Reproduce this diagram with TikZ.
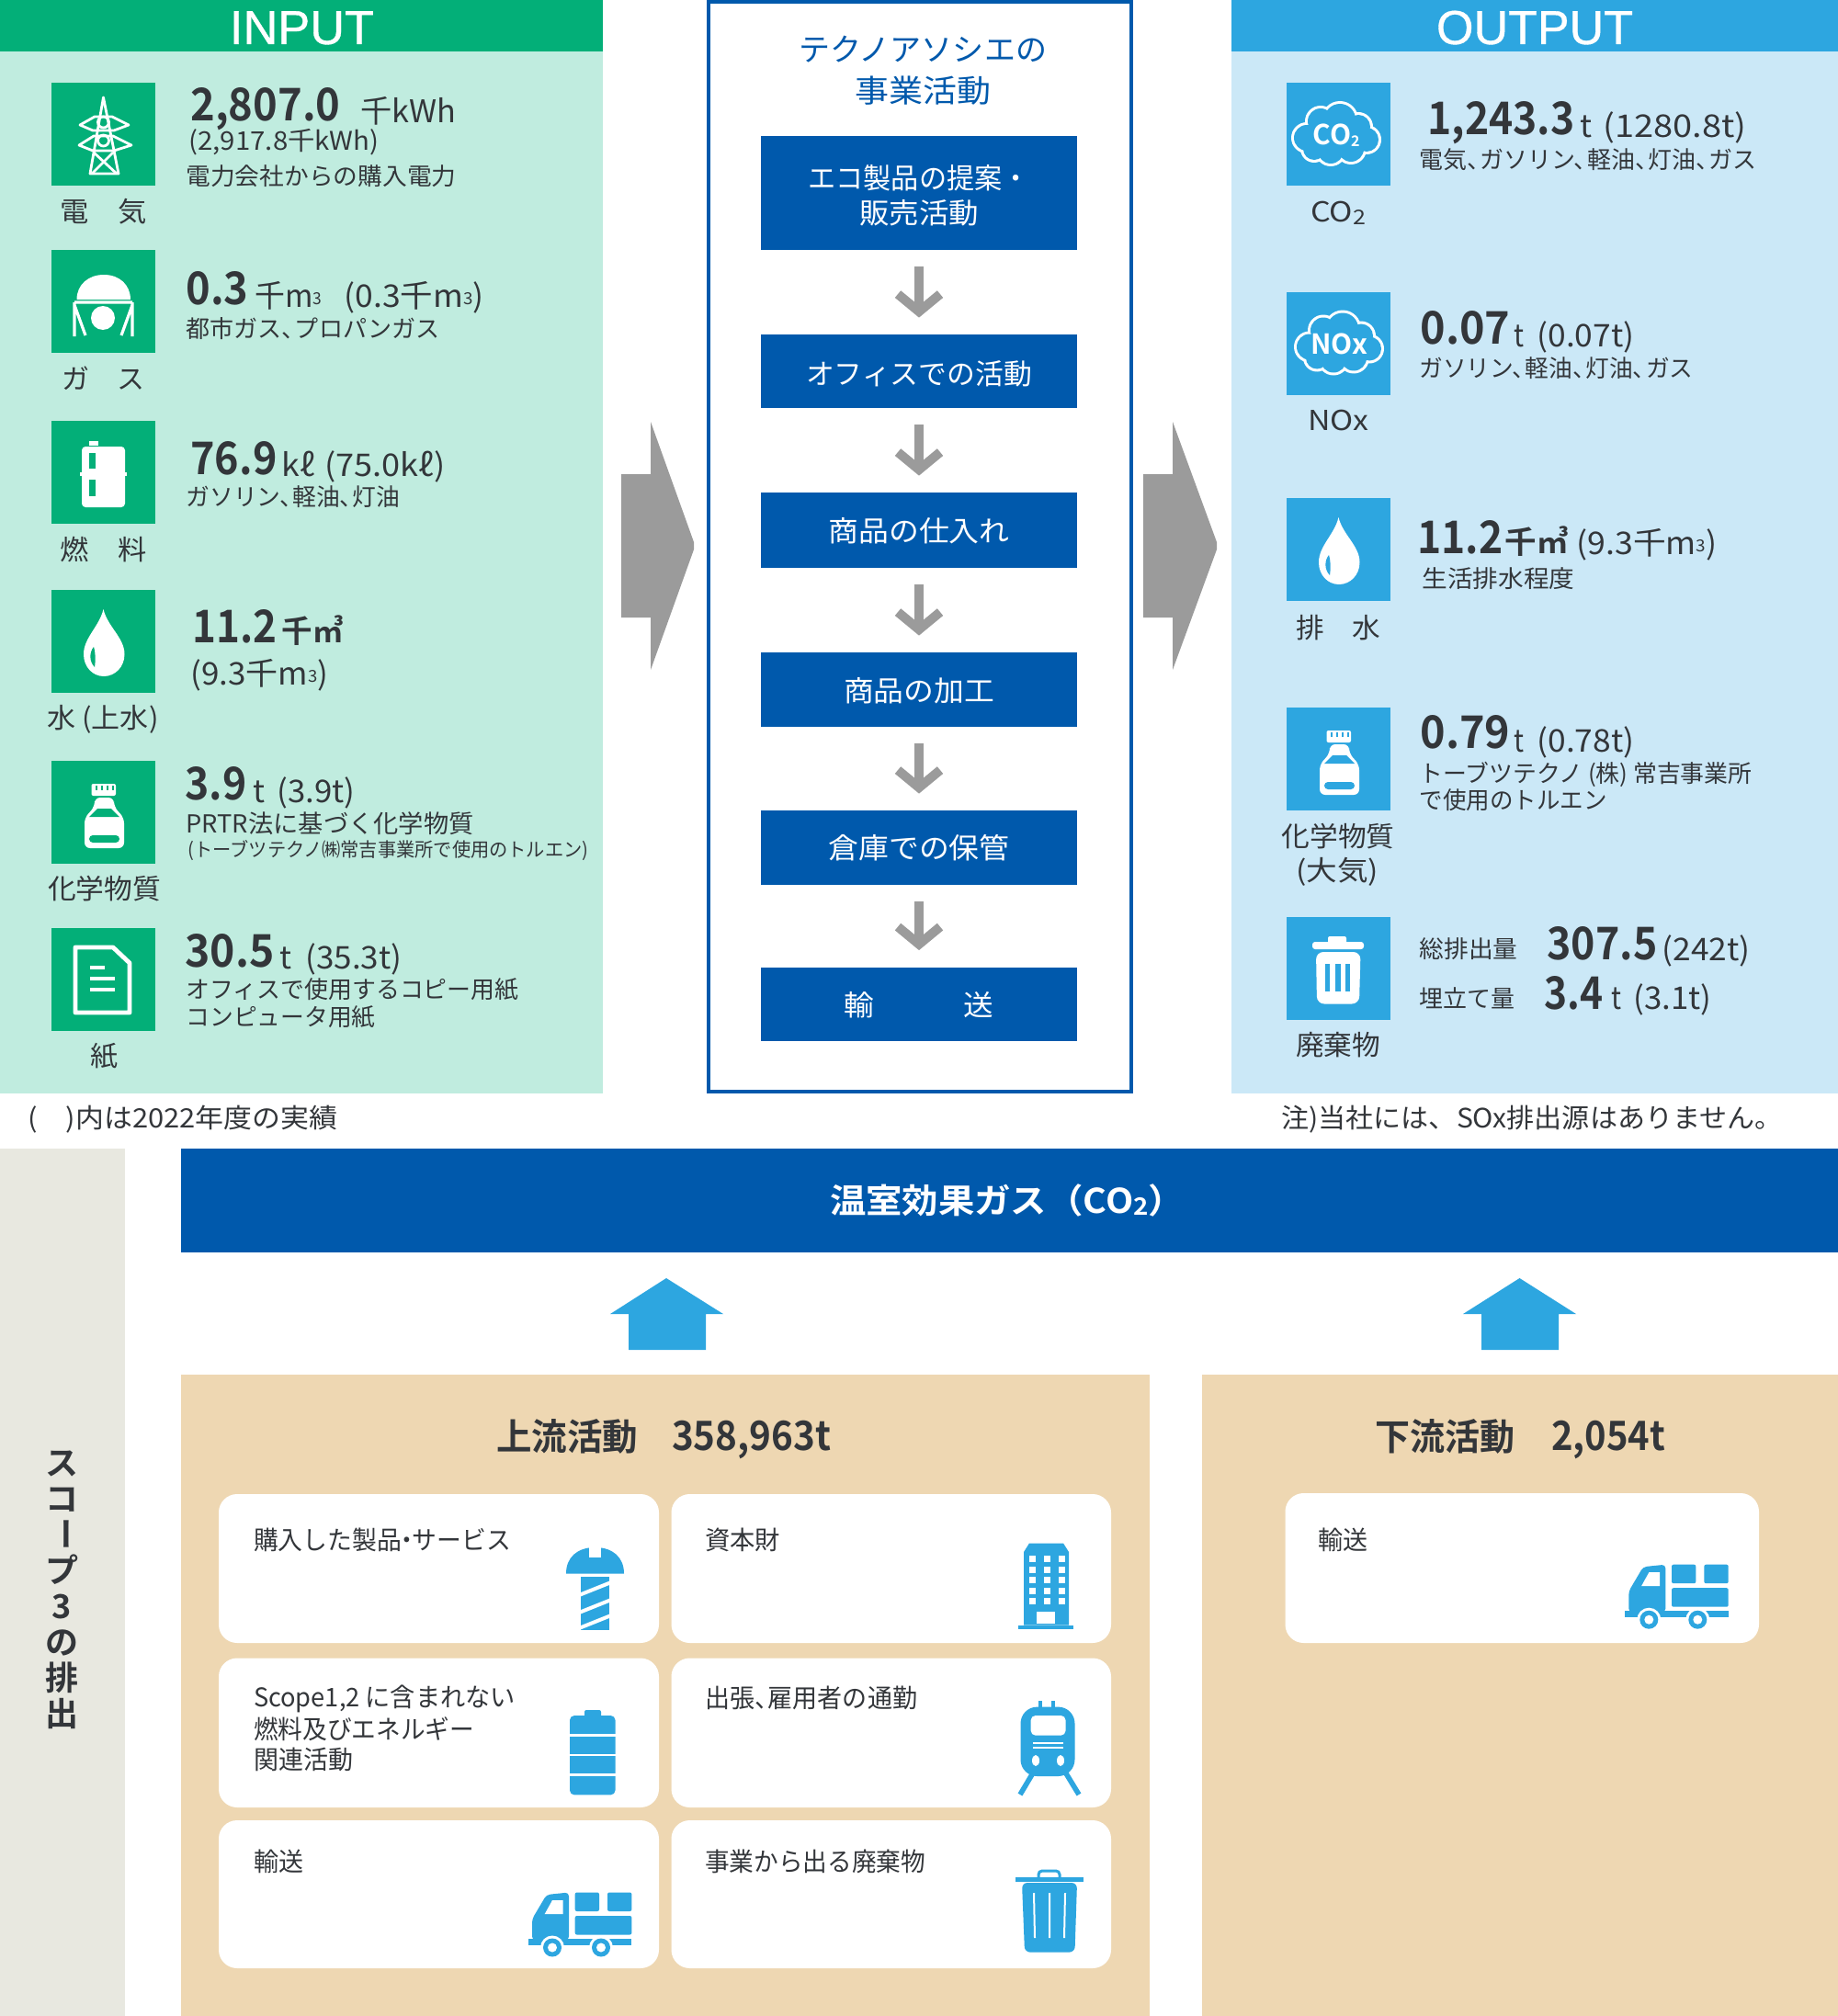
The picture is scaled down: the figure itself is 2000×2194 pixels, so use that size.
\documentclass[tikz,border=0pt]{standalone}
\usepackage{fontspec}
\usepackage{graphicx}
\usetikzlibrary{arrows.meta}
\setmainfont{Noto Sans CJK JP}[BoldFont={Noto Sans CJK JP Bold}]
\newfontfamily\latinhead{Liberation Sans}[FakeBold=0.7]
\definecolor{ingreen}{HTML}{03AF78}
\definecolor{inpale}{HTML}{C0ECDF}
\definecolor{outblue}{HTML}{2DA6E0}
\definecolor{outpale}{HTML}{CBE8F7}
\definecolor{deepblue}{HTML}{0059AC}
\definecolor{flowgray}{HTML}{9B9B9B}
\definecolor{sidegray}{HTML}{E8E8E0}
\definecolor{beige}{HTML}{EED7B2}
\definecolor{ink}{HTML}{33363A}
\newcommand\fs[1]{\fontsize{#1}{#1}\selectfont}
\newsavebox\fbx
\newcommand\fw[2]{\sbox\fbx{#2}\edef\fwid{\the\wd\fbx}\pgfmathsetmacro\fr{(#1)*0.5/\fwid}\scalebox{\fr}[1]{\usebox\fbx}}
% upper panels: measured left edges carry a 2.5 px offset
\newcommand\tw[5]{\node[txt] (#1) at (#2-2.5,#3) {\fw{#4}{#5}};}
\newcommand\twb[5]{\node[txt] (#1) at (#2,#3) {\fw{#4}{#5}};}
\newcommand\tc[5]{\node[txtc] (#1) at (#2,#3) {\fw{#4}{#5}};}
\newcommand\ten{、\kern-.45em}
\newcommand\nak{\kern-.28em・\kern-.28em}
\newcommand\mth{\raisebox{1.5pt}{\fs{9}3}}
\newcommand\subtwo[1]{\raisebox{-1.2pt}{\fs{#1}2}}
\newcommand\downby[2]{\raisebox{0pt}[\dimexpr\height+#1\relax][\depth]{#2}}
\newcommand\Bn{\fs{24.5}\bfseries}
\newcommand\Un{\fs{17}}
\newcommand\Dt{\fs{13}}
\newcommand\Ct{\fs{14}}
\newcommand\Lb{\fs{15}}
\tikzset{
  txt/.style={anchor=base west,inner sep=0pt,outer sep=0pt,text=ink},
  txtc/.style={anchor=center,inner sep=0pt,outer sep=0pt,text=ink},
  procbox/.style={fill=deepblue,text=white,anchor=center,inner sep=0pt,minimum width=172pt,align=center,font={\fontsize{15.5}{19}\selectfont}},
  flow/.style={draw=flowgray,line width=5pt,shorten <=9pt,shorten >=9pt,-{Straight Barb[length=9.5pt,width=23pt]}},
  card/.style={fill=white,rounded corners=10pt},
}
% ---- icons (local origin = top-left of icon square) ----
\newcommand\icdrop[3]{\begin{scope}[shift={(#1,#2)}]
\fill[white] (56.5,21) .. controls (52,40) and (35,52) .. (35,70) .. controls (35,84) and (45,94) .. (57,94) .. controls (69,94) and (79.5,84) .. (79.5,70) .. controls (79.5,52) and (61,40) .. (56.5,21) -- cycle;
\fill[#3] (46,62) .. controls (41,68) and (41,78) .. (47,84) .. controls (48,78) and (48,68) .. (46,62) -- cycle;
\end{scope}}
\newcommand\icbottle[3]{\begin{scope}[shift={(#1,#2)}]
\fill[white,rounded corners=3pt] (47,40) -- (47,50) -- (36,62) -- (36,95) -- (79,95) -- (79,62) -- (68,50) -- (68,40) -- cycle;
\fill[white,rounded corners=1pt] (43.5,25) rectangle (70,38);
\foreach \q in {48,54,60,66}{\fill[#3] (\q,27) rectangle (\q+1.8,32);}
\fill[#3] (41,61) -- (50,52) -- (65,52) -- (74,61) -- cycle;
\fill[#3,rounded corners=2pt] (41,81) rectangle (74,89);
\end{scope}}
\newcommand\iccloud[4]{\begin{scope}[shift={(#1,#2)}]
\foreach \a/\b/\r in {22/60/14,37/42/14,58/40/17,78/48/13,87/62/13,70/72/14,48/74/14,30/72/12,55/57/20}{\fill[white] (\a,\b) circle (\r+3);}
\foreach \a/\b/\r in {22/60/14,37/42/14,58/40/17,78/48/13,87/62/13,70/72/14,48/74/14,30/72/12,55/57/20}{\fill[outblue] (\a,\b) circle (\r);}
\node[txtc,text=white,font=\bfseries\fs{15}] (#3) at (54,57) {#4};
\end{scope}}
\newcommand\ictruck[2]{\begin{scope}[shift={(#1,#2)}]
\fill[outblue,rounded corners=2pt] (4.3,52) -- (4.3,29) -- (20,2.5) -- (44.3,0) -- (44.3,52) -- cycle;
\fill[white] (18,23.5) -- (38,23.5) -- (38,8.5) -- (26.3,8.5) -- cycle;
\fill[outblue,rounded corners=1pt] (51,0) rectangle (77.3,20.5);
\fill[outblue,rounded corners=1pt] (86.3,0) rectangle (112.7,20.5);
\fill[outblue,rounded corners=1pt] (51,25.5) rectangle (112.7,46);
\fill[outblue] (0,50) rectangle (112.7,57.5);
\foreach \q in {26.3,79.3}{\fill[white] (\q,60) circle (13);\fill[outblue] (\q,60) circle (10);\fill[white] (\q,60) circle (5);}
\end{scope}}
\begin{document}
\begin{tikzpicture}[x=0.5pt,y=-0.5pt]
\useasboundingbox (0,0) rectangle (2000,2194);
\fill[white] (0,0) rectangle (2000,2194);
% ===== INPUT panel =====
\fill[inpale] (0,0) rectangle (656,1190);
\fill[ingreen] (0,0) rectangle (656,56);
\node[txt,text=white,font=\latinhead\fs{26}] (inhead) at (250,48) {\fw{157}{INPUT}};
\foreach \q in {90,272,458,642,828,1010}{\fill[ingreen] (56,\q) rectangle ++(113,112);}
% pylon
\begin{scope}[shift={(56,90)},draw=white,line width=1.4pt,line join=round]
\draw (56.5,16) -- (42,99) -- (73,99) -- cycle;
\draw (31,46) -- (47,37) -- (66,37) -- (84,46) -- (68,52) -- (45,52) -- cycle;
\draw (30,68) -- (46,58) -- (67,58) -- (87,68) -- (68,74) -- (45,74) -- cycle;
\draw (56.5,43) circle (6);\draw (56.5,63) circle (6);
\draw (46,76) -- (71,99) (67,76) -- (44,99);
\end{scope}
% gas tank
\begin{scope}[shift={(56,272)}]
\fill[white] (27.5,54) .. controls (27.5,38) and (40,27) .. (57,27) .. controls (74,27) and (86,38) .. (86,54) -- cycle;
\draw[white,line width=1.6pt] (25,57) -- (88,57) (25,57) -- (25,94) (88,57) -- (88,94) (25,60) -- (37,93) (88,60) -- (76,93);
\fill[white] (56,74) circle (13);
\end{scope}
% drum
\begin{scope}[shift={(56,458)}]
\fill[white] (41,22) rectangle (51,27);
\fill[white,rounded corners=2pt] (33,28) rectangle (80,94);
\fill[white] (31,56) rectangle (82,60);
\fill[ingreen] (41,35) rectangle (48,52);
\fill[ingreen] (41,64) rectangle (48,82);
\end{scope}
\icdrop{56}{642}{ingreen}
\icbottle{56}{828}{ingreen}
% paper
\begin{scope}[shift={(56,1010)}]
\draw[white,line width=2.4pt,line join=round] (26,21) -- (67,21) -- (85,38) -- (85,92) -- (26,92) -- cycle;
\draw[white,line width=1.6pt] (41.5,43) -- (58,43) (41.5,55) -- (69,55) (41.5,67) -- (69,67);
\end{scope}
% input texts
\tw{a1n}{210}{132}{163}{\Bn 2,807.0}
\tw{a1u}{395}{134}{104}{\Un 千kWh}
\tw{a1p}{208}{164}{207}{\fs{14}(2,917.8千kWh)}
\tw{a1d}{205}{202}{294}{\Dt 電力会社からの購入電力}
\tc{a1l}{112.5}{230}{94}{\Lb 電　気}
\tw{a2n}{205}{331}{68}{\Bn 0.3}
\tw{a2u}{280}{334}{73}{\Un 千m\mth}
\tw{a2p}{377}{334}{152}{\Un (0.3千m\mth)}
\tw{a2d}{205}{367}{276}{\Dt 都市ガス\ten プロパンガス}
\tc{a2l}{112.5}{412}{90}{\Lb ガ　ス}
\tw{a3n}{210}{516}{94}{\Bn 76.9}
\tw{a3u}{309}{518}{36}{\Un kℓ}
\tw{a3p}{356}{518}{131}{\Un (75.0kℓ)}
\tw{a3d}{205}{550}{233}{\Dt ガソリン\ten 軽油\ten 灯油}
\tc{a3l}{112.5}{598}{94}{\Lb 燃　料}
\tw{a4n}{212}{699}{92}{\Bn 11.2}
\tw{a4u}{309}{699}{67}{\Un\bfseries 千㎥}
\tw{a4p}{210}{745}{150}{\Un (9.3千m\mth)}
\tc{a4l}{112}{783}{121}{\Lb 水 (上水)}
\tw{a5n}{204}{870}{67}{\Bn 3.9}
\tw{a5u}{278}{873}{13}{\Un t}
\tw{a5p}{304}{873}{85}{\Un (3.9t)}
\tw{a5d}{205}{906}{313}{\fs{13.5}PRTR法に基づく化学物質}
\tw{a5e}{207}{932}{436}{\fs{10.5}(トーブツテクノ㈱常吉事業所で使用のトルエン)}
\tc{a5l}{113.5}{967}{123}{\Lb 化学物質}
\tw{a6n}{204}{1052}{97}{\Bn 30.5}
\tw{a6u}{307}{1054}{13}{\Un t}
\tw{a6p}{335}{1054}{105}{\Un (35.3t)}
\tw{a6d}{205}{1086}{362}{\Dt オフィスで使用するコピー用紙}
\tw{a6e}{205}{1116}{206}{\Dt コンピュータ用紙}
\tc{a6l}{113}{1149}{30}{\Lb 紙}
\tw{foot1}{33}{1227}{337}{\fs{14.5}(　)内は2022年度の実績}
% ===== OUTPUT panel =====
\fill[outpale] (1340,0) rectangle (2000,1190);
\fill[outblue] (1340,0) rectangle (2000,56);
\node[txt,text=white,font=\latinhead\fs{26}] (outhead) at (1563,48) {\fw{214}{OUTPUT}};
\foreach \q in {90,317.5,542,770,998}{\fill[outblue] (1400,\q) rectangle ++(113,112);}
\iccloud{1400}{90}{cotxt}{CO\subtwo{8}}
\iccloud{1403}{317.5}{noxtxt}{NOx}
\icdrop{1400}{542}{outblue}
\icbottle{1400}{770}{outblue}
\begin{scope}[shift={(1400,998)}]
\fill[white,rounded corners=1pt] (45,21) rectangle (65,30);
\fill[white,rounded corners=1.5pt] (28,27) rectangle (84,35);
\fill[white,rounded corners=4pt] (32,38) -- (80.5,38) -- (79,94.5) -- (33,94.5) -- cycle;
\fill[outblue] (42,51) rectangle (47,81);
\fill[outblue] (53,51) rectangle (58.5,81);
\fill[outblue] (64,51) rectangle (69,81);
\end{scope}
\tw{b1n}{1556}{147}{160}{\Bn 1,243.3}
\tw{b1u}{1722}{149.5}{13}{\Un t}
\tw{b1p}{1747}{149.5}{156}{\Un (1280.8t)}
\tw{b1d}{1547}{184}{367}{\Dt 電気\ten ガソリン\ten 軽油\ten 灯油\ten ガス}
\tc{b1l}{1456}{232}{60}{\Lb CO\subtwo{11}}
\tw{b2n}{1548}{374}{98}{\Bn 0.07}
\tw{b2u}{1650}{377}{11}{\Un t}
\tw{b2p}{1675}{377}{106}{\Un (0.07t)}
\tw{b2d}{1547}{410}{298}{\Dt ガソリン\ten 軽油\ten 灯油\ten ガス}
\tc{b2l}{1456}{458}{66}{\Lb NOx}
\tw{b3n}{1545}{602}{93}{\Bn 11.2}
\tw{b3u}{1640}{602}{69}{\Un\bfseries 千㎥}
\tw{b3p}{1718}{603}{153}{\Un (9.3千m\mth)}
\tw{b3d}{1550}{639}{166}{\Dt 生活排水程度}
\tc{b3l}{1456}{683}{92}{\Lb 排　水}
\tw{b4n}{1548}{814.5}{98}{\Bn 0.79}
\tw{b4u}{1650}{818}{11}{\Un t}
\tw{b4p}{1675}{818}{106}{\Un (0.78t)}
\tw{b4d}{1547}{851}{362}{\Dt トーブツテクノ (株) 常吉事業所}
\tw{b4e}{1547}{880}{204}{\Dt で使用のトルエン}
\tc{b4l}{1456}{910}{123}{\Lb 化学物質}
\tc{b4m}{1455}{949}{90}{\Lb (大気)}
\tw{b5a}{1547}{1042}{107}{\Dt 総排出量}
\tw{b5n}{1686}{1044}{120}{\Bn 307.5}
\tw{b5p}{1811}{1045}{96}{\Un (242t)}
\tw{b5b}{1547}{1096}{104}{\Dt 埋立て量}
\tw{b5m}{1683}{1098}{64}{\Bn 3.4}
\tw{b5u}{1756}{1098}{11}{\Un t}
\tw{b5q}{1780}{1098}{85}{\Un (3.1t)}
\tc{b5l}{1456}{1137}{92}{\Lb 廃棄物}
\tw{foot2}{1397}{1227}{545}{\fs{14.5}注)当社には、SOx排出源はありません。}
% ===== CENTRE column =====
\draw[deepblue,line width=2pt] (771,2) rectangle (1230.5,1188);
\tc{ctitleA}{1004}{54}{270}{\fs{17}\color{deepblue}テクノアソシエの}
\tc{ctitleB}{1004}{99}{148}{\fs{17}\color{deepblue}事業活動}
\node[procbox,minimum height=62pt] (p1) at (1000,210) {\downby{3pt}{\fw{241}{エコ製品の提案・}}\\\fw{130}{販売活動}};
\node[procbox,minimum height=40pt] (p2) at (1000,404) {\downby{2.5pt}{\fw{246}{オフィスでの活動}}};
\node[procbox,minimum height=41pt] (p3) at (1000,577) {\downby{1.2pt}{\fw{197}{商品の仕入れ}}};
\node[procbox,minimum height=40.5pt] (p4) at (1000,750.5) {\downby{1.2pt}{\fw{164}{商品の加工}}};
\node[procbox,minimum height=40.5pt] (p5) at (1000,922.5) {\fw{197}{倉庫での保管}};
\node[procbox,minimum height=40pt] (p6) at (1000,1092.5) {\downby{1.5pt}{\fw{163}{輸　　　送}}};
\draw[flow] (p1.south) -- (p2.north);
\draw[flow] (p2.south) -- (p3.north);
\draw[flow] (p3.south) -- (p4.north);
\draw[flow] (p4.south) -- (p5.north);
\draw[flow] (p5.south) -- (p6.north);
% big grey arrows
\fill[flowgray] (676,516) -- (708,516) -- (708,459) -- (755,590) -- (755,598) -- (708,729) -- (708,672) -- (676,672) -- cycle;
\fill[flowgray] (1244,516) -- (1276,516) -- (1276,459) -- (1324,590) -- (1324,598) -- (1276,729) -- (1276,672) -- (1244,672) -- cycle;
% ===== BOTTOM =====
\fill[sidegray] (0,1250) rectangle (136,2194);
\fill[deepblue] (197,1250) rectangle (2000,1363);
\node[txtc,text=white] (ghg) at (1096,1306) {\fw{386}{\fs{18.5}\bfseries 温室効果ガス（CO\subtwo{13}）}};
\fill[outblue] (725,1391) -- (787,1430) -- (768,1430) -- (768,1469) -- (684,1469) -- (684,1430) -- (664,1430) -- cycle;
\fill[outblue] (1653.5,1391) -- (1715,1430) -- (1696,1430) -- (1696,1469) -- (1612,1469) -- (1612,1430) -- (1592,1430) -- cycle;
\fill[beige] (197,1496) rectangle (1251,2194);
\fill[beige] (1308,1496) rectangle (2000,2194);
\node[anchor=center,inner sep=0pt,text=ink,align=center,font={\fontsize{18}{19.5}\selectfont\bfseries}] (scope3) at (67,1730) {ス\\コ\\\smash{\raisebox{2.5pt}{\rotatebox[origin=c]{-90}{ー}}}\\プ\\3\\の\\排\\出};
\twb{upA}{540}{1578}{154}{\fs{20}\bfseries 上流活動}
\twb{upB}{731}{1578}{173}{\fs{22}\bfseries 358,963t}
\twb{dnA}{1496}{1578}{152}{\fs{20}\bfseries 下流活動}
\twb{dnB}{1688}{1578}{124}{\fs{22}\bfseries 2,054t}
% cards
\fill[card] (238,1626) rectangle (717,1788);
\fill[card] (730.5,1626) rectangle (1209,1788);
\fill[card] (238,1804.5) rectangle (717,1967);
\fill[card] (730.5,1804.5) rectangle (1209,1967);
\fill[card] (238,1981) rectangle (717,2142);
\fill[card] (730.5,1981) rectangle (1209,2142);
\fill[card] (1398.5,1625) rectangle (1914,1788);
\twb{c1}{276}{1686}{280}{\Ct 購入した製品\nak サービス}
\twb{c2}{767}{1686}{82}{\Ct 資本財}
\twb{c3a}{276}{1857}{285}{\Ct Scope1,2 に含まれない}
\twb{c3b}{276}{1892}{240}{\Ct 燃料及びエネルギー}
\twb{c3c}{276}{1925}{108}{\Ct 関連活動}
\twb{c4}{767}{1858}{231}{\Ct 出張\ten 雇用者の通勤}
\twb{c5}{276}{2036}{54}{\Ct 輸送}
\twb{c6}{767}{2036}{240}{\Ct 事業から出る廃棄物}
\twb{c7}{1434}{1686}{54}{\Ct 輸送}
% screw
\fill[outblue] (616,1712.5) .. controls (616,1695) and (628,1684) .. (647.5,1684) .. controls (667,1684) and (679,1695) .. (679,1712.5) -- cycle;
\fill[white] (641,1684) rectangle (654,1695);
\fill[outblue] (632,1715.5) rectangle (663,1773.5);
\draw[white,line width=2pt] (630,1736) -- (665,1722) (630,1755) -- (665,1741) (630,1772) -- (665,1758);
% building
\fill[outblue] (1120,1679.5) -- (1157,1679.5) -- (1163,1689) -- (1163,1768.5) -- (1114,1768.5) -- (1114,1689) -- cycle;
\fill[outblue] (1108,1768.5) rectangle (1168,1773);
\foreach \a in {1119.5,1135.5,1151.5}{\foreach \b in {1693,1704.5,1716,1727.5,1739}{\fill[white] (\a,\b) rectangle ++(7,7);}}
\fill[white] (1128,1753.5) rectangle (1148,1766.5);
% battery
\fill[outblue,rounded corners=1pt] (636,1861) rectangle (654,1870);
\fill[outblue,rounded corners=2.5pt] (620,1867) rectangle (669.5,1953.4);
\draw[white,line width=1.3pt] (620,1888.6) -- (669.5,1888.6) (620,1910) -- (669.5,1910) (620,1931.4) -- (669.5,1931.4);
% train
\fill[outblue] (1130,1851) rectangle (1134,1860);
\fill[outblue] (1144,1851) rectangle (1148,1860);
\fill[outblue,rounded corners=9pt] (1110.5,1857.6) rectangle (1169.5,1933);
\fill[white,rounded corners=2.5pt] (1121.7,1867) rectangle (1159.5,1888.6);
\draw[white,line width=1pt] (1124,1897.3) -- (1157,1897.3) (1124,1902) -- (1157,1902);
\fill[white] (1127,1916) ellipse (4 and 6);
\fill[white] (1154,1916) ellipse (4 and 6);
\draw[outblue,line width=2.8pt] (1123.7,1930) -- (1110,1953) (1160,1930) -- (1174,1953);
% trash (bottom)
\draw[outblue,line width=1.5pt,rounded corners=2pt] (1130,2044) -- (1130,2036) -- (1153,2036) -- (1153,2044);
\fill[outblue] (1105,2043) rectangle (1179,2047.5);
\fill[outblue,rounded corners=3pt] (1112,2049) -- (1172,2049) -- (1169.5,2124.6) -- (1115,2124.6) -- cycle;
\draw[white,line width=1pt] (1125,2060) -- (1126,2109) (1142,2060) -- (1142,2109) (1159,2060) -- (1158,2109);
\ictruck{574.7}{2059.5}
\ictruck{1768}{1702.7}
\end{tikzpicture}
\end{document}
